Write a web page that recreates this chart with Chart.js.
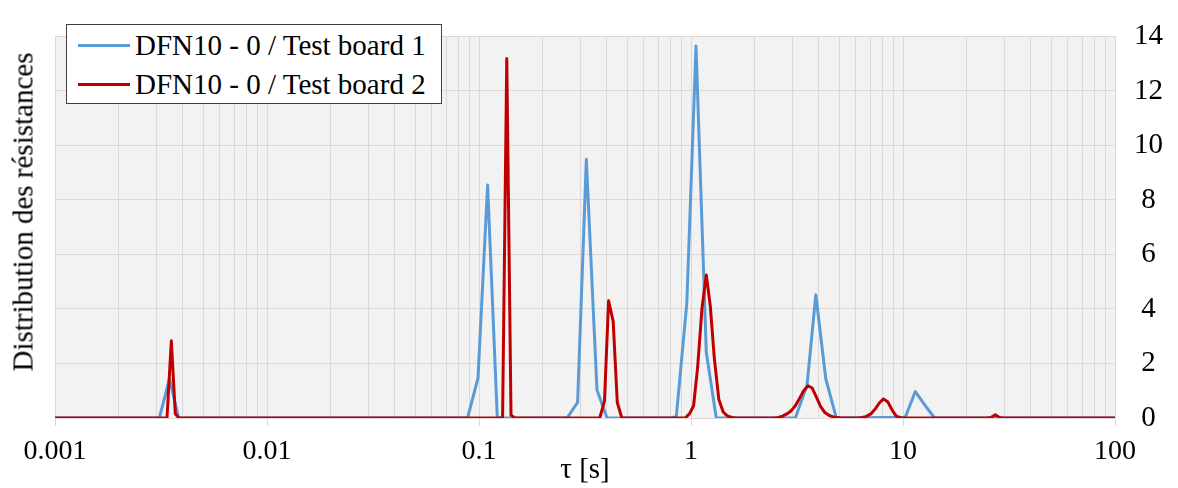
<!DOCTYPE html>
<html>
<head>
<meta charset="utf-8">
<script src="https://cdn.jsdelivr.net/npm/chart.js@4.4.1/dist/chart.umd.min.js"></script>
<style>
html,body{margin:0;padding:0;background:#fff;}
#wrap{position:relative;width:1178px;height:488px;}
canvas{display:block;}
#legend{position:absolute;left:66px;top:24px;width:376px;height:80px;border:1px solid #404040;background:#fff;box-sizing:border-box;font-family:"Liberation Serif","Times New Roman",serif;font-size:29px;color:#000;}
.item{position:absolute;left:0;height:34px;line-height:34px;white-space:nowrap;}
.swatch{position:absolute;left:11px;top:15.5px;width:52px;height:3px;}
.lbl{position:absolute;left:68px;top:0;}
#ytitle{position:absolute;left:23px;top:212px;transform:translate(-50%,-50%) rotate(-90deg);white-space:nowrap;font-family:"Liberation Serif","Times New Roman",serif;font-size:29px;line-height:29px;color:#000;}
</style>
</head>
<body>
<div id="wrap">
<canvas id="c" width="1178" height="488"></canvas>
<div id="legend"></div>
<div id="ytitle">Distribution des résistances</div>
</div>
<script>
// ---- data ----
const seriesNames = ['DFN10 - 0 / Test board 1', 'DFN10 - 0 / Test board 2'];
const xTickLabels = ['0.001', '0.01', '0.1', '1', '10', '100'];
const yTickValues = [0, 2, 4, 6, 8, 10, 12, 14];

const board1Tau = [0.001, 0.003105, 0.003471, 0.003828, 0.08834, 0.09893, 0.1098, 0.1220, 0.2602, 0.2918, 0.3208, 0.3602, 0.4016, 0.7990, 0.8524, 0.9554, 1.0558, 1.1808, 1.3161, 3.105, 3.526, 3.879, 4.323, 4.846, 10.25, 11.43, 12.74, 14.10, 25.5, 27.2, 29.0, 100];
const board1Val = [0, 0, 1.44, 0, 0, 1.47, 8.55, 0, 0, 0.57, 9.49, 1.03, 0, 0, 0.05, 4.2, 13.65, 2.4, 0, 0, 1.2, 4.52, 1.44, 0, 0.03, 0.97, 0.45, 0, 0, 0.05, 0, 0];

const board2Tau = [0.001, 0.003375, 0.003538, 0.003694, 0.003844, 0.1292, 0.1352, 0.1416, 0.1482, 0.3713, 0.3908, 0.4086, 0.4295, 0.4491, 0.4717, 0.9399, 0.9849, 1.0287, 1.0743, 1.1268, 1.1808, 1.2331, 1.2879, 1.3525, 1.4187, 1.4832, 1.5575, 1.64, 2.46, 2.581, 2.702, 2.831, 2.963, 3.105, 3.250, 3.402, 3.564, 3.730, 3.908, 4.090, 4.281, 4.485, 4.695, 4.920, 5.15, 6.13, 6.427, 6.727, 7.048, 7.377, 7.731, 8.091, 8.468, 8.873, 9.288, 9.732, 10.2, 24.8, 26.0, 27.25, 28.5, 29.8, 100];
const board2Val = [0, 0, 2.83, 0.15, 0, 0, 13.19, 0.1, 0, 0, 0.63, 4.3, 3.54, 0.57, 0, 0, 0.16, 0.45, 1.85, 4.03, 5.25, 4.11, 2.2, 0.69, 0.22, 0.08, 0.02, 0, 0, 0.02, 0.07, 0.15, 0.26, 0.45, 0.72, 1.0, 1.18, 1.1, 0.76, 0.42, 0.2, 0.09, 0.04, 0.02, 0, 0, 0.02, 0.06, 0.15, 0.32, 0.55, 0.7, 0.6, 0.3, 0.07, 0.01, 0, 0, 0.02, 0.12, 0.02, 0, 0];

const colors = ['#5b9bd5', '#c00000'];
// ---------------

const FONT = '"Liberation Serif", "Times New Roman", serif';
const GRID = '#d9d9d9';
const toPts = (xs, ys) => xs.map((x, i) => ({x: x, y: ys[i]}));
const isDecade = v => Math.abs(Math.log10(v) - Math.round(Math.log10(v))) < 1e-6;
const decadeVals = xTickLabels.map(parseFloat);

const bgPlugin = {
  id: 'plotBg',
  beforeDraw(chart) {
    const a = chart.chartArea, ctx = chart.ctx;
    ctx.save();
    ctx.fillStyle = '#f2f2f2';
    ctx.fillRect(a.left, a.top, a.right - a.left, a.bottom - a.top);
    ctx.restore();
  }
};

new Chart(document.getElementById('c'), {
  type: 'line',
  data: {
    datasets: [
      {label: seriesNames[0], data: toPts(board1Tau, board1Val), borderColor: colors[0], backgroundColor: colors[0], borderWidth: 3, pointRadius: 0, tension: 0, fill: false, order: 1, yAxisID: 'y', borderJoinStyle: 'round'},
      {label: seriesNames[1], data: toPts(board2Tau, board2Val), borderColor: colors[1], backgroundColor: colors[1], borderWidth: 3, pointRadius: 0, tension: 0, fill: false, order: 0, yAxisID: 'y', borderJoinStyle: 'round'}
    ]
  },
  options: {
    responsive: false,
    animation: false,
    devicePixelRatio: 1,
    layout: {padding: {top: 16, left: 55, right: 0, bottom: 0}},
    plugins: {legend: {display: false}, tooltip: {enabled: false}},
    scales: {
      x: {
        type: 'logarithmic',
        position: 'bottom',
        min: 0.001, max: 100,
        afterBuildTicks(scale) {
          const t = [];
          for (let i = 0; i < decadeVals.length; i++) {
            const d = decadeVals[i];
            if (i === decadeVals.length - 1) { t.push({value: d}); break; }
            for (let m = 1; m <= 9; m++) t.push({value: +(m * d).toPrecision(6)});
          }
          scale.ticks = t;
        },
        afterFit(scale) { scale.height = 70; },
        ticks: {
          autoSkip: false, maxRotation: 0, minRotation: 0, padding: 9,
          color: '#000', font: {family: FONT, size: 28},
          callback(v) {
            const i = decadeVals.findIndex(d => Math.abs(d - v) / d < 1e-6);
            return i >= 0 ? xTickLabels[i] : '';
          }
        },
        grid: {
          color: GRID, lineWidth: 1, drawTicks: true, tickLength: 8,
          tickColor: ctx => (ctx.tick && isDecade(ctx.tick.value)) ? GRID : 'rgba(0,0,0,0)'
        },
        border: {display: false},
        title: {display: true, text: 'τ [s]', color: '#000', font: {family: FONT, size: 29}, padding: {top: 0, bottom: 0}}
      },
      y: {
        type: 'linear', position: 'right', min: 0, max: 14,
        afterBuildTicks(scale) { scale.ticks = yTickValues.map(v => ({value: v})); },
        afterFit(scale) { scale.width = 63; },
        ticks: {color: '#000', font: {family: FONT, size: 29}, padding: 19, crossAlign: 'center'},
        grid: {color: GRID, lineWidth: 1, drawTicks: false, tickLength: 0},
        border: {display: false}
      }
    }
  },
  plugins: [bgPlugin]
});

// legend (HTML text)
const lg = document.getElementById('legend');
seriesNames.forEach((n, i) => {
  const it = document.createElement('div');
  it.className = 'item';
  it.style.top = (i === 0 ? 3 : 42) + 'px';
  it.style.width = '100%';
  const sw = document.createElement('div');
  sw.className = 'swatch';
  sw.style.background = colors[i];
  const tx = document.createElement('div');
  tx.className = 'lbl';
  tx.textContent = n;
  it.appendChild(sw); it.appendChild(tx);
  lg.appendChild(it);
});
</script>
</body>
</html>
